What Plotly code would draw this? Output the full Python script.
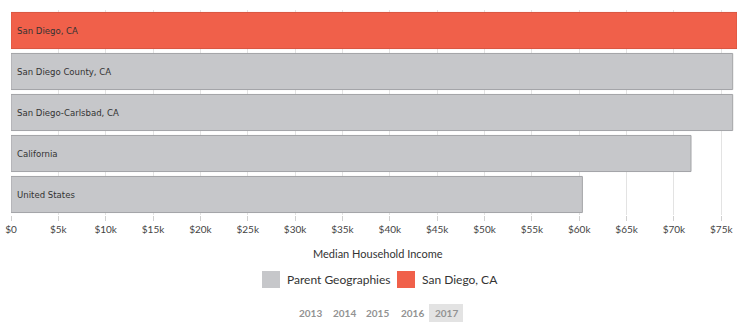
import plotly.graph_objects as go

categories = ["San Diego, CA", "San Diego County, CA", "San Diego-Carlsbad, CA", "California", "United States"]
values = [76662, 76207, 76207, 71805, 60336]
groups = ["San Diego, CA", "Parent Geographies", "Parent Geographies", "Parent Geographies", "Parent Geographies"]
tick_vals = [0, 5000, 10000, 15000, 20000, 25000, 30000, 35000, 40000, 45000, 50000, 55000, 60000, 65000, 70000, 75000]
tick_text = ["$0", "$5k", "$10k", "$15k", "$20k", "$25k", "$30k", "$35k", "$40k", "$45k", "$50k", "$55k", "$60k", "$65k", "$70k", "$75k"]
years = ["2013", "2014", "2015", "2016", "2017"]
selected_year = "2017"
x_title = "Median Household Income"
legend_items = ["Parent Geographies", "San Diego, CA"]

W, H = 749, 329
ML, MR, MT, MB = 11, 12, 10, 114
PW = W - ML - MR
PH = H - MT - MB

fill = {"San Diego, CA": "#f0604a", "Parent Geographies": "#c6c7ca"}
edge = {"San Diego, CA": "#d9543f", "Parent Geographies": "#a3a4a7"}

def px_x(p):
    return (p - ML) / PW

def px_y(p):
    return (H - MB - p) / PH

fig = go.Figure()
fig.add_trace(go.Bar(
    x=values, y=categories, orientation="h",
    marker=dict(color=[fill[g] for g in groups],
                line=dict(color=[edge[g] for g in groups], width=1)),
    hoverinfo="skip", showlegend=False,
))

annotations = []
for c in categories:
    annotations.append(dict(x=0, y=c, xref="x", yref="y", text=c, showarrow=False,
                            xanchor="left", yanchor="middle", xshift=4,
                            font=dict(family="DejaVu Sans Condensed", size=9.5, color="#333333")))

annotations.append(dict(x=px_x(378), y=px_y(253), xref="paper", yref="paper", text=x_title,
                        showarrow=False, xanchor="center", yanchor="middle",
                        font=dict(family="Lato", size=11, color="#333333")))

shapes = []
leg_sq = [(262, 280), (397, 415)]
leg_tx = [285, 420]
for name, (a, b), tx in zip(legend_items, leg_sq, leg_tx):
    shapes.append(dict(type="rect", xref="paper", yref="paper", x0=px_x(a), x1=px_x(b),
                       y0=px_y(288), y1=px_y(271), fillcolor=fill[name], line=dict(width=0)))
    annotations.append(dict(x=px_x(tx), y=px_y(279.5), xref="paper", yref="paper", text=name,
                            showarrow=False, xanchor="left", yanchor="middle",
                            font=dict(family="Lato", size=12, color="#333333")))

year_cx = [310, 344, 378, 412, 446]
for yr, cx in zip(years, year_cx):
    if yr == selected_year:
        shapes.append(dict(type="rect", xref="paper", yref="paper", x0=px_x(cx - 17), x1=px_x(cx + 17),
                           y0=px_y(322), y1=px_y(304), fillcolor="#e3e3e3", line=dict(width=0), layer="below"))
    annotations.append(dict(x=px_x(cx), y=px_y(313), xref="paper", yref="paper", text="<b>%s</b>" % yr,
                            showarrow=False, xanchor="center", yanchor="middle",
                            font=dict(family="Lato", size=10, color="#929292")))

fig.update_layout(
    width=W, height=H,
    margin=dict(l=ML, r=MR, t=MT, b=MB, pad=0, autoexpand=False),
    paper_bgcolor="white", plot_bgcolor="white",
    bargap=0.12,
    showlegend=False,
    annotations=annotations,
    shapes=shapes,
    xaxis=dict(tickvals=tick_vals, ticktext=tick_text, showgrid=True, gridcolor="#e3e3e3", gridwidth=1,
               zeroline=False, ticks="outside", ticklen=5, tickcolor="#d0d0d0",
               tickfont=dict(family="Lato", size=10, color="#444444"), showline=False,
               range=[0, max(values)], automargin=False, fixedrange=True),
    yaxis=dict(autorange="reversed", showticklabels=False, showgrid=False, zeroline=False,
               ticks="", fixedrange=True, automargin=False),
)

fig.write_html("out.html")
